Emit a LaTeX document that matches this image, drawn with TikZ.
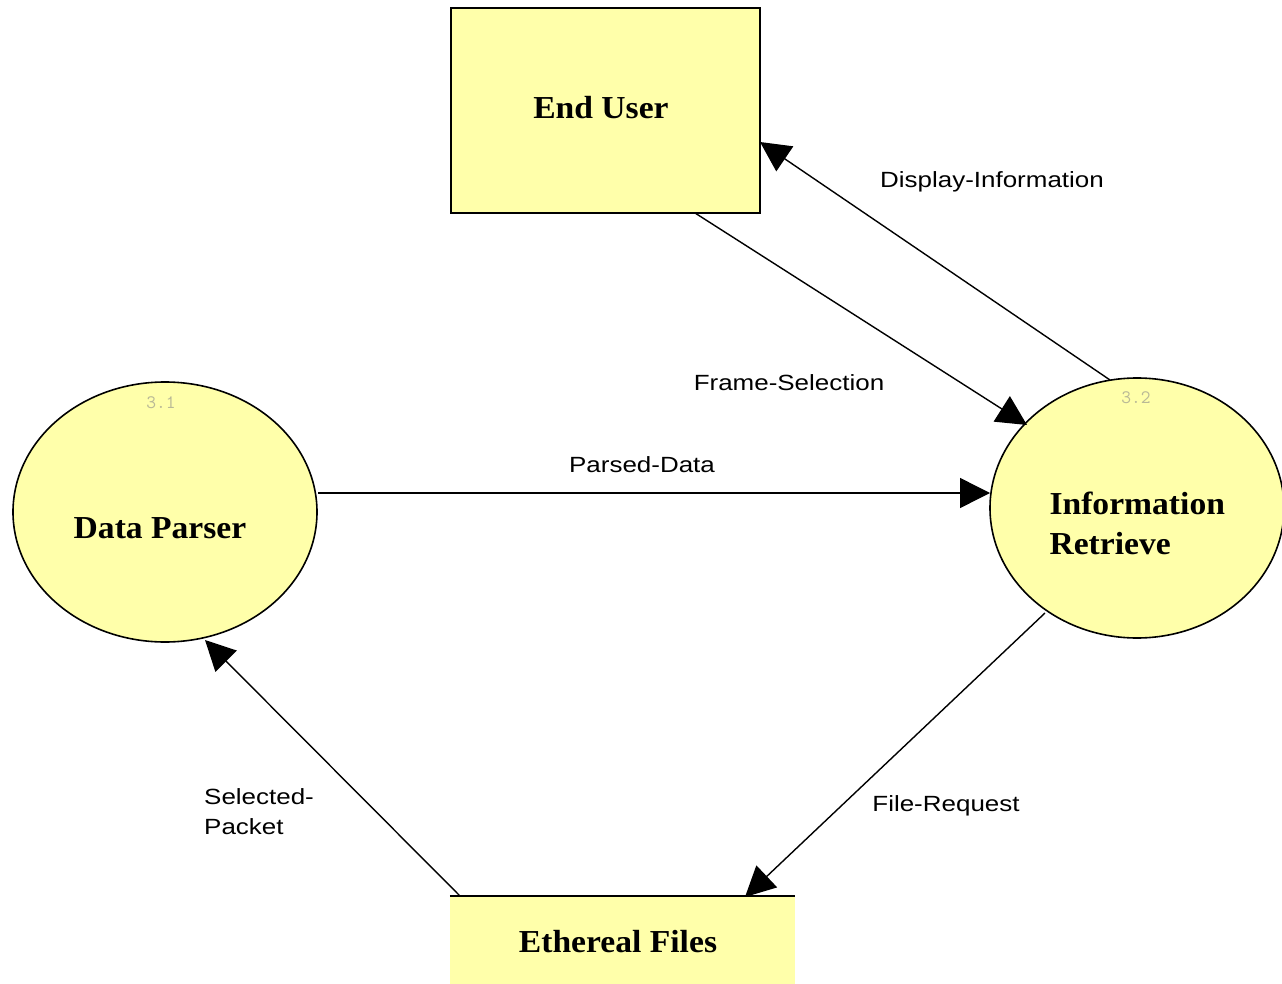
\documentclass[tikz,border=0pt]{standalone}
\usepackage{fontspec}
\setmainfont{Liberation Serif}[FakeStretch=1.05]
\setsansfont{Liberation Sans}[FakeStretch=1.18]
\usetikzlibrary{shapes.geometric,arrows.meta}
\definecolor{boxyellow}{RGB}{255,255,170}
\definecolor{numgrey}{RGB}{185,185,150}
\tikzset{
  flow/.style={draw=black,line width=1.4pt,-{Triangle[length=30pt,width=30pt]}},
  proc/.style={draw=black,line width=1.6pt,fill=boxyellow,ellipse,inner sep=0pt},
  ent/.style={draw=black,line width=2pt,fill=boxyellow,rectangle,inner sep=0pt},
  title/.style={font=\fontsize{32}{40}\selectfont\bfseries,align=left},
  lbl/.style={font=\sffamily\fontsize{22}{30}\selectfont,align=left,inner sep=0pt},
  num/.style={font=\ttfamily\fontsize{19}{20}\selectfont,text=numgrey,inner sep=0pt}
}
\begin{document}
\begin{tikzpicture}[x=1pt,y=-1pt]
\useasboundingbox (0,0) rectangle (1282,984);
% shapes
\node[ent,minimum width=309pt,minimum height=205pt] (eu) at (605.5,110.5) {};
\node[proc,minimum width=304pt,minimum height=260pt] (dp) at (165,512) {};
\node[proc,minimum width=294pt,minimum height=260pt] (ir) at (1137,508) {};
\fill[boxyellow] (450,896) rectangle (795,984);
\node[inner sep=0pt,minimum width=345pt,minimum height=88pt] (ef) at (622.5,940) {};
\draw[line width=1.6pt] (ef.north west) -- (ef.north east);
% texts
\node[title] (eut) at (601,108) {End User};
\node[title] (dpt) at (160,528) {Data Parser};
\node[title,anchor=west] (irt) at (1046,523) {Information\\Retrieve};
\node[title] (eft) at (618,942) {Ethereal Files};
\node[num] (n1) at (161,403) {3.1};
\node[num] (n2) at (1136,398) {3.2};
% connector endpoints
\coordinate (irTop) at (1110,380);
\coordinate (euR) at (760,142);
\coordinate (euB) at (695,213);
\coordinate (irUL) at (1027,425);
\coordinate (dpR) at (318,493);
\coordinate (irL) at (990,493);
\coordinate (irLL) at (1045,613);
\coordinate (efT) at (745,897);
\coordinate (efTL) at (460,896);
\coordinate (dpB) at (205,640);
% flows
\draw[flow] (irTop) -- (euR);
\draw[flow] (euB) -- (irUL);
\draw[flow] (dpR) -- (irL);
\draw[flow] (irLL) -- (efT);
\draw[flow] (efTL) -- (dpB);
% labels
\node[lbl] (l1) at (992,182) {Display-Information};
\node[lbl] (l2) at (789,383) {Frame-Selection};
\node[lbl] (l3) at (642,465) {Parsed-Data};
\node[lbl] (l4) at (946,806) {File-Request};
\node[lbl,anchor=north west] (l5) at (204,788) {Selected-\\Packet};
\end{tikzpicture}
\end{document}
